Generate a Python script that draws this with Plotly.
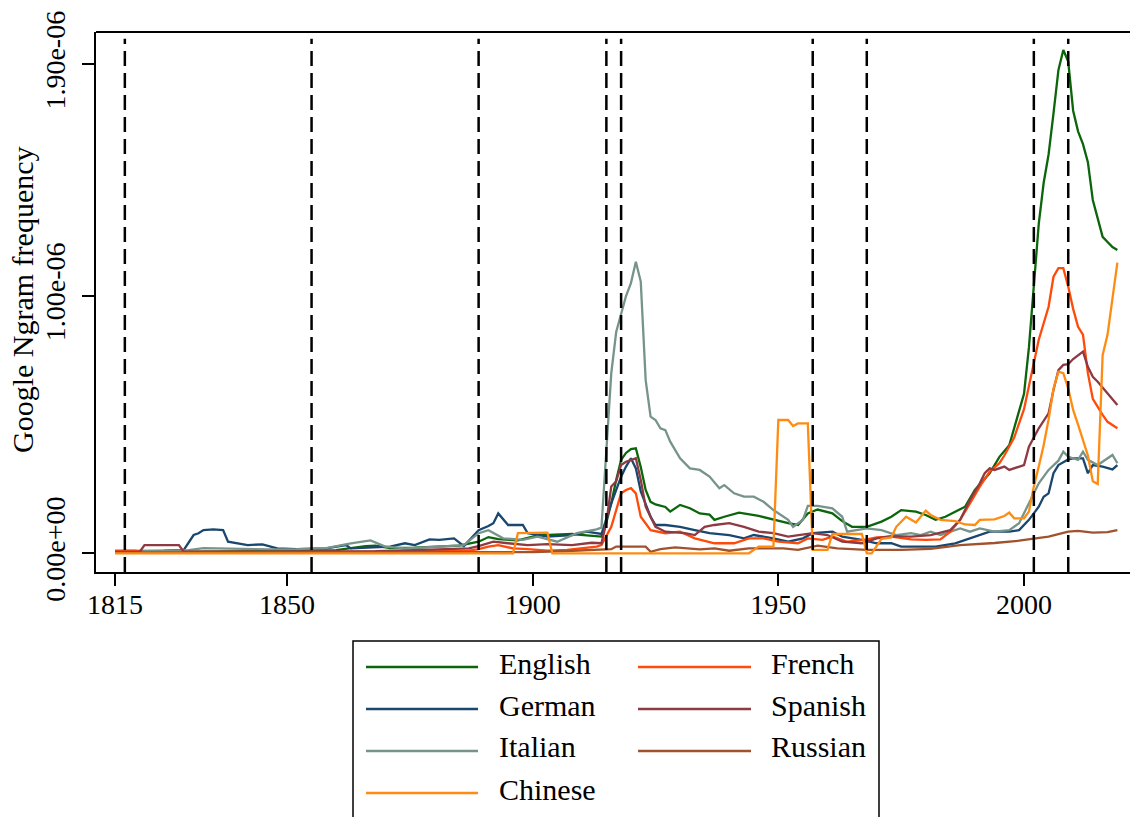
import plotly.graph_objects as go

SCALE = 1e-6  # values below are in units of 1e-6

english_years = [1815,1825,1835,1845,1855,1860,1863,1866,1868,1871,1876,1880,1885,1889,1891,1893,1897,1901,1905,1908,1911,1914,1915,1916,1917,1918,1919,1920,1921,1922,1923,1924,1925,1927,1928,1930,1932,1934,1936,1937,1939,1942,1946,1949,1952,1954,1956,1958,1961,1963,1965,1968,1971,1973,1975,1978,1980,1982,1984,1988,1990,1993,1995,1997,1998,2000,2001,2002,2003,2004,2005,2006,2007,2008,2009,2010,2011,2012,2013,2014,2015,2016,2017,2018,2019]
english_vals = [0.003,0.005,0.006,0.008,0.01,0.012,0.02,0.028,0.03,0.02,0.022,0.025,0.03,0.045,0.063,0.055,0.05,0.07,0.072,0.075,0.07,0.065,0.12,0.195,0.285,0.363,0.39,0.405,0.408,0.335,0.246,0.2,0.19,0.18,0.162,0.188,0.175,0.155,0.15,0.13,0.142,0.158,0.145,0.13,0.117,0.11,0.155,0.17,0.155,0.125,0.103,0.103,0.123,0.142,0.168,0.162,0.149,0.13,0.142,0.181,0.246,0.311,0.375,0.42,0.49,0.62,0.80,1.03,1.28,1.44,1.55,1.71,1.878,1.956,1.911,1.72,1.64,1.59,1.52,1.373,1.30,1.23,1.21,1.19,1.179]

german_years = [1815,1820,1825,1829,1831,1832,1833,1835,1837,1838,1840,1842,1845,1848,1852,1858,1862,1863,1871,1874,1876,1879,1881,1884,1886,1889,1891,1892,1893,1895,1898,1899,1903,1908,1911,1914,1916,1918,1919,1920,1921,1922,1924,1925,1927,1930,1933,1936,1940,1943,1945,1949,1952,1955,1957,1961,1963,1967,1970,1973,1975,1982,1986,1990,1993,1997,1999,2001,2003,2004,2005,2006,2007,2009,2010,2012,2013,2014,2016,2018,2019]
german_vals = [0.008,0.008,0.01,0.013,0.071,0.078,0.09,0.093,0.09,0.045,0.039,0.032,0.035,0.019,0.016,0.019,0.032,0.019,0.026,0.039,0.032,0.054,0.052,0.058,0.028,0.09,0.106,0.117,0.155,0.11,0.11,0.078,0.065,0.071,0.084,0.075,0.194,0.298,0.337,0.369,0.33,0.24,0.142,0.11,0.11,0.103,0.09,0.078,0.071,0.058,0.071,0.058,0.045,0.058,0.078,0.084,0.065,0.052,0.039,0.039,0.026,0.026,0.039,0.065,0.084,0.084,0.09,0.13,0.181,0.22,0.233,0.311,0.343,0.365,0.369,0.369,0.311,0.343,0.337,0.326,0.343]

italian_years = [1815,1825,1830,1833,1840,1846,1852,1858,1863,1867,1870,1874,1881,1886,1889,1891,1894,1898,1901,1905,1909,1913,1914,1915,1916,1917,1918,1919,1920,1921,1922,1923,1924,1925,1926,1927,1928,1930,1932,1934,1936,1938,1939,1941,1943,1945,1947,1949,1952,1953,1955,1956,1958,1961,1963,1964,1968,1971,1974,1977,1979,1981,1983,1987,1989,1991,1994,1997,1999,2001,2003,2005,2007,2008,2009,2011,2012,2013,2015,2018,2019]
italian_vals = [0.005,0.008,0.012,0.02,0.016,0.015,0.016,0.02,0.039,0.05,0.026,0.019,0.026,0.032,0.078,0.09,0.058,0.052,0.065,0.045,0.078,0.093,0.10,0.40,0.70,0.86,0.93,1.0,1.05,1.133,1.056,0.673,0.531,0.518,0.486,0.479,0.434,0.369,0.33,0.324,0.298,0.253,0.265,0.233,0.22,0.22,0.20,0.168,0.13,0.103,0.13,0.184,0.184,0.175,0.142,0.084,0.097,0.09,0.071,0.078,0.071,0.084,0.071,0.097,0.084,0.097,0.084,0.09,0.117,0.194,0.272,0.324,0.36,0.395,0.375,0.363,0.395,0.363,0.343,0.382,0.35]

chinese_years = [1815,1896,1897,1903,1904,1944,1946,1949,1950,1952,1953,1954,1956,1957,1960,1961,1967,1968,1969,1971,1973,1974,1976,1978,1980,1981,1983,1986,1988,1990,1991,1994,1996,1997,1998,2000,2001,2002,2003,2004,2005,2006,2007,2008,2009,2010,2011,2012,2013,2014,2015,2016,2017,2018,2019]
chinese_vals = [0.0,0.0,0.078,0.08,0.0,0.0,0.026,0.026,0.518,0.518,0.495,0.505,0.505,0.013,0.013,0.075,0.075,0.0,0.0,0.056,0.062,0.103,0.142,0.12,0.166,0.149,0.13,0.125,0.112,0.11,0.13,0.132,0.145,0.158,0.136,0.136,0.162,0.26,0.337,0.42,0.52,0.64,0.706,0.70,0.64,0.557,0.50,0.44,0.38,0.28,0.269,0.77,0.85,0.99,1.13]

french_years = [1815,1819,1821,1850,1870,1880,1887,1889,1891,1893,1896,1899,1903,1907,1910,1913,1914,1916,1917,1918,1919,1920,1921,1922,1924,1927,1930,1933,1937,1941,1944,1947,1950,1954,1956,1959,1961,1964,1968,1970,1973,1977,1980,1983,1985,1987,1989,1991,1993,1995,1996,1998,2000,2001,2002,2003,2005,2006,2007,2008,2009,2010,2011,2012,2013,2014,2016,2017,2019]
french_vals = [0.01,0.01,0.004,0.004,0.006,0.008,0.01,0.016,0.026,0.032,0.019,0.016,0.01,0.013,0.019,0.026,0.032,0.103,0.168,0.233,0.246,0.253,0.233,0.142,0.09,0.078,0.084,0.058,0.039,0.039,0.058,0.058,0.045,0.039,0.058,0.052,0.065,0.045,0.054,0.062,0.065,0.054,0.052,0.054,0.084,0.13,0.194,0.259,0.317,0.35,0.38,0.45,0.56,0.65,0.75,0.83,0.958,1.075,1.108,1.108,1.036,0.95,0.88,0.85,0.70,0.60,0.538,0.511,0.486]

spanish_years = [1815,1820,1821,1828,1829,1840,1850,1860,1868,1876,1882,1887,1889,1892,1895,1899,1903,1908,1912,1914,1915,1916,1917,1918,1919,1921,1922,1923,1925,1927,1931,1933,1935,1937,1940,1943,1946,1949,1952,1954,1957,1960,1963,1967,1970,1973,1977,1981,1985,1987,1989,1991,1992,1993,1994,1996,1997,2000,2001,2003,2005,2006,2007,2008,2009,2010,2011,2012,2013,2014,2015,2017,2019]
spanish_vals = [0.005,0.005,0.032,0.032,0.006,0.006,0.006,0.008,0.008,0.012,0.015,0.019,0.028,0.045,0.039,0.032,0.036,0.032,0.041,0.039,0.12,0.26,0.28,0.343,0.356,0.369,0.285,0.181,0.103,0.084,0.078,0.071,0.103,0.11,0.117,0.103,0.084,0.078,0.065,0.071,0.078,0.071,0.045,0.039,0.058,0.067,0.065,0.071,0.09,0.13,0.207,0.272,0.311,0.33,0.324,0.337,0.324,0.343,0.414,0.486,0.544,0.635,0.712,0.732,0.735,0.755,0.77,0.784,0.725,0.686,0.667,0.622,0.576]

russian_years = [1815,1880,1900,1907,1911,1916,1917,1923,1924,1926,1929,1934,1937,1940,1944,1951,1954,1958,1962,1968,1975,1981,1987,1994,1999,2003,2005,2009,2011,2014,2017,2019]
russian_vals = [0.002,0.003,0.005,0.009,0.013,0.016,0.026,0.026,0.006,0.016,0.023,0.015,0.019,0.01,0.019,0.019,0.013,0.03,0.019,0.013,0.013,0.017,0.032,0.04,0.049,0.058,0.065,0.084,0.087,0.08,0.082,0.09]

event_years = [1817, 1855, 1889, 1915, 1918, 1957, 1968, 2002, 2009]

x_tick_vals = [1815, 1850, 1900, 1950, 2000]
y_tick_vals = [0.0, 1.0, 1.9]
y_tick_text = ["0.00e+00", "1.00e-06", "1.90e-06"]
y_title = "Google Ngram frequency"

series = [
    ("English", english_years, english_vals, "#0b650b"),
    ("German", german_years, german_vals, "#1a476f"),
    ("Italian", italian_years, italian_vals, "#76948a"),
    ("French", french_years, french_vals, "#ff4a0a"),
    ("Spanish", spanish_years, spanish_vals, "#8e3a42"),
    ("Russian", russian_years, russian_vals, "#a0522d"),
    ("Chinese", chinese_years, chinese_vals, "#ff8c12"),
]
colors = {name: c for name, _, _, c in series}

FONT = "Liberation Serif, Times New Roman, serif"
X_RANGE = [1811.13, 2021.57]
Y_RANGE = [-0.0727 * SCALE, 2.026 * SCALE]

fig = go.Figure()
for name, yrs, vals, col in series:
    fig.add_trace(go.Scatter(x=yrs, y=[v * SCALE for v in vals], mode="lines", name=name,
                             line=dict(color=col, width=2.3), showlegend=False))

shapes = []
for ey in event_years:
    shapes.append(dict(type="line", xref="x", yref="y", x0=ey, x1=ey,
                       y0=Y_RANGE[0], y1=2.0 * SCALE,
                       line=dict(color="black", width=2.5, dash="15px,7px")))
# top frame line
shapes.append(dict(type="line", xref="paper", yref="paper", x0=0, x1=1, y0=1, y1=1,
                   line=dict(color="black", width=2)))

# manual legend (two columns, column-first order)
W, H = 1034.0, 540.0
def px(xp):
    return (xp - 96) / W
def py(yp):
    return (572 - yp) / H

shapes.append(dict(type="rect", xref="paper", yref="paper", x0=px(353), x1=px(879),
                   y0=py(840), y1=py(641), line=dict(color="black", width=1.5),
                   fillcolor="rgba(0,0,0,0)"))
legend_layout = [
    ("English", 0, 0), ("German", 0, 1), ("Italian", 0, 2), ("Chinese", 0, 3),
    ("French", 1, 0), ("Spanish", 1, 1), ("Russian", 1, 2),
]
col_line = [(366, 478), (638, 751)]
col_text = [497, 769]
row_y = [667, 709, 751, 793]
annotations = []
for name, c, r in legend_layout:
    shapes.append(dict(type="line", xref="paper", yref="paper",
                       x0=px(col_line[c][0]), x1=px(col_line[c][1]),
                       y0=py(row_y[r]), y1=py(row_y[r]),
                       line=dict(color=colors[name], width=2.5)))
    annotations.append(dict(xref="paper", yref="paper", x=px(col_text[c]), y=py(row_y[r] - 4),
                            text=name, showarrow=False, xanchor="left", yanchor="middle",
                            font=dict(family=FONT, size=30, color="black")))

# y-axis title as rotated annotation
annotations.append(dict(xref="paper", yref="paper", x=px(22), y=py(300), text=y_title,
                        textangle=-90, showarrow=False, xanchor="center", yanchor="middle",
                        font=dict(family=FONT, size=30, color="black")))

fig.update_layout(
    width=1130, height=817,
    margin=dict(l=96, r=0, t=32, b=245, autoexpand=False),
    paper_bgcolor="white", plot_bgcolor="white",
    font=dict(family=FONT, size=28, color="black"),
    shapes=shapes, annotations=annotations,
    showlegend=False,
)
fig.update_xaxes(range=X_RANGE, tickvals=x_tick_vals, ticks="outside", ticklen=12,
                 tickwidth=1.5, tickcolor="black", showline=True, linecolor="black",
                 linewidth=2, showgrid=False, zeroline=False, automargin=False,
                 ticklabelstandoff=-6,
                 tickfont=dict(family=FONT, size=28, color="black"))
fig.update_yaxes(range=Y_RANGE, tickvals=[v * SCALE for v in y_tick_vals], ticktext=y_tick_text,
                 tickangle=-90, ticks="outside", ticklen=12, tickwidth=1.5, tickcolor="black",
                 showline=True, linecolor="black", linewidth=2, showgrid=False, zeroline=False,
                 automargin=False, ticklabelstandoff=6,
                 tickfont=dict(family=FONT, size=28, color="black"))

fig.write_html("out.html", config={"displayModeBar": False},
               post_script="document.body.style.margin='0';document.body.style.overflow='hidden';")
